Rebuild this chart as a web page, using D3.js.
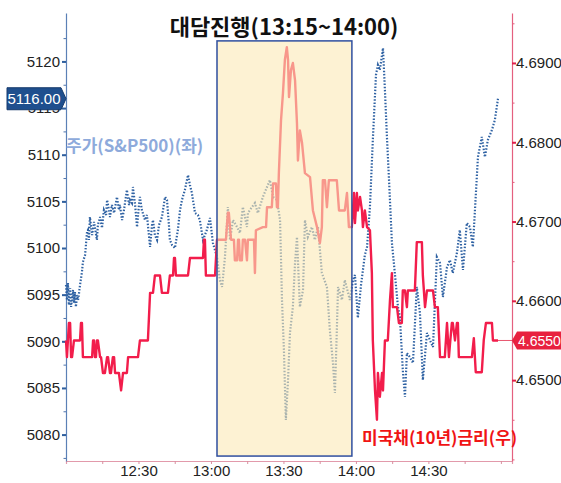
<!DOCTYPE html>
<html>
<head>
<meta charset="utf-8">
<script src="https://cdn.jsdelivr.net/npm/d3@7"></script>
<style>
  body { margin: 0; background: #ffffff; }
  svg { display: block; font-family: "Liberation Sans", Arial, sans-serif; }
</style>
</head>
<body>
<div id="content_svg"></div>
<script>
// S&P500: minutos desde las 12:00 y valor (eje izquierdo)
var spxMinutos = [0,0.4,0.8,1.2,1.7,2.1,2.9,3.3,3.7,4.1,4.6,5.0,5.4,5.8,6.6,7.0,7.9,8.7,9.1,9.5,9.9,10.8,11.6,12.8,13.2,14.1,14.9,15.7,16.6,17.0,17.8,18.2,19.0,19.9,21.1,21.9,22.3,23.2,24.0,25.2,26.1,26.5,27.3,27.7,28.6,29.4,30.2,30.6,31.4,32.7,33.5,34.8,35.6,36.0,36.8,37.7,38.5,39.7,41.0,41.8,42.6,43.0,43.9,45.1,46.3,47.2,48.0,49.2,50.5,51.3,52.1,53.4,54.6,55.4,56.7,57.5,58.3,59.6,60.8,62.5,63.7,64.6,65.8,67.0,67.9,69.1,70.8,72.0,73.2,74.9,75.3,77.0,78.2,79.4,81.5,83.2,84.4,85.7,87.3,88.6,89.4,90.2,91.0,91.9,92.7,93.9,94.8,95.6,96.8,98.1,98.9,100.1,101.8,103.0,104.3,105.9,108.0,109.2,110.5,111.3,112.1,112.6,114.2,115.4,117.5,118.8,119.6,120.8,122.1,122.9,123.7,124.6,125.8,127.0,128.3,129.1,129.9,130.8,131.2,132.0,132.8,133.7,134.9,136.1,137.4,138.2,139.4,140.3,141.1,142.3,143.6,145.2,146.5,147.7,149.4,150.6,151.9,153.5,154.8,156.0,157.7,158.9,160.1,161.8,163.0,164.3,165.9,167.2,168.4,169.2,170.5,172.1,173.4,174.6,176.3,177.5,178.8];
var spxValores = [5096.03,5094.43,5096.25,5093.89,5095.71,5093.68,5095.50,5094.10,5095.28,5093.68,5094.96,5094.43,5095.18,5096.03,5097.43,5098.50,5099.25,5101.72,5101.93,5100.86,5103.32,5101.39,5102.79,5100.86,5102.47,5103.32,5102.14,5104.07,5103.54,5105.15,5104.07,5103.32,5104.61,5103.75,5105.47,5104.07,5104.61,5103.00,5104.07,5106.22,5104.61,5105.15,5104.82,5106.54,5104.61,5102.25,5104.61,5105.47,5104.07,5103.00,5103.54,5100.11,5102.47,5103.00,5101.39,5100.86,5102.47,5103.32,5105.47,5105.15,5102.47,5100.86,5100.32,5100.00,5101.93,5104.07,5105.15,5106.22,5107.83,5106.75,5105.90,5103.75,5103.54,5103.00,5100.86,5101.39,5101.93,5103.22,5100.54,5099.04,5096.57,5095.82,5099.04,5104.40,5100.86,5103.00,5102.25,5101.61,5104.40,5102.25,5103.75,5104.40,5104.82,5103.75,5105.47,5106.54,5107.29,5105.47,5105.15,5103.00,5094.43,5089.07,5081.56,5085.85,5090.89,5093.68,5098.39,5101.18,5093.68,5095.50,5103.00,5101.18,5102.25,5100.86,5102.25,5097.32,5095.82,5091.21,5087.67,5084.46,5091.21,5095.82,5094.43,5096.57,5094.43,5096.57,5097.11,5092.50,5096.03,5097.64,5099.25,5100.11,5104.40,5111.58,5118.55,5119.62,5119.08,5120.69,5121.44,5116.94,5112.11,5107.29,5100.54,5097.32,5093.68,5092.60,5086.92,5084.03,5088.74,5088.32,5087.67,5095.82,5093.03,5085.85,5090.89,5090.14,5089.39,5099.04,5098.39,5094.75,5097.96,5098.71,5097.32,5099.46,5101.93,5097.64,5102.68,5102.25,5100.11,5103.75,5109.75,5111.90,5109.75,5111.58,5112.65,5113.72,5116.00];

// Bono 10 años: minutos desde las 12:00 y rendimiento (eje derecho)
var bonoMinutos = [0,0.4,1.2,1.7,2.1,2.5,3.3,5.8,6.2,6.6,7.0,10.8,11.2,11.6,12.0,12.4,12.8,13.2,14.1,14.5,15.3,16.1,17.0,17.4,18.2,18.6,19.4,19.9,20.3,21.9,22.8,23.6,25.2,25.7,29.8,30.6,33.9,34.8,36.0,36.8,38.9,39.7,42.2,43.0,44.3,44.7,45.1,45.5,50.5,51.3,56.7,57.1,57.5,57.9,61.7,62.5,66.2,67.0,67.4,68.3,69.5,69.9,70.8,71.2,71.6,72.0,72.8,73.2,74.1,74.9,75.3,77.8,78.2,78.6,81.5,82.8,83.2,85.2,85.7,86.9,87.3,87.7,88.1,89.0,89.8,90.6,91.4,91.9,92.3,93.1,93.9,94.8,95.6,96.0,96.8,97.7,98.9,101.0,102.2,103.9,105.1,105.9,106.3,107.2,108.0,108.8,112.1,113.0,115.4,116.3,117.1,118.3,119.2,119.6,120.4,120.8,121.7,122.5,122.9,123.7,124.6,125.8,126.6,127.0,127.9,128.7,129.1,129.9,130.8,131.2,132.0,133.2,134.1,134.9,135.3,137.0,137.8,139.0,139.4,140.3,141.1,141.5,144.4,145.2,147.3,147.7,148.6,149.4,151.9,152.7,153.9,154.8,156.8,157.7,158.5,158.9,159.7,160.1,161.0,161.8,162.2,162.6,168.0,168.8,169.6,172.1,172.9,173.8,176.3,176.7,178.8];
var bonoValores = [4.6550,4.6529,4.6572,4.6572,4.6529,4.6529,4.6550,4.6550,4.6572,4.6572,4.6529,4.6529,4.6550,4.6550,4.6529,4.6529,4.6550,4.6550,4.6529,4.6529,4.6509,4.6509,4.6529,4.6529,4.6509,4.6509,4.6529,4.6529,4.6509,4.6509,4.6487,4.6509,4.6509,4.6529,4.6529,4.6550,4.6550,4.6610,4.6610,4.6632,4.6632,4.6610,4.6610,4.6632,4.6632,4.6654,4.6654,4.6632,4.6632,4.6654,4.6654,4.6677,4.6677,4.6632,4.6632,4.6677,4.6677,4.6711,4.6711,4.6677,4.6677,4.6651,4.6651,4.6677,4.6677,4.6651,4.6651,4.6677,4.6677,4.6651,4.6677,4.6677,4.6635,4.6689,4.6693,4.6693,4.6718,4.6718,4.6748,4.6748,4.6718,4.6718,4.6761,4.6828,4.6862,4.6904,4.6920,4.6904,4.6857,4.6891,4.6900,4.6878,4.6824,4.6777,4.6815,4.6799,4.6761,4.6756,4.6714,4.6693,4.6673,4.6693,4.6752,4.6752,4.6718,4.6752,4.6752,4.6714,4.6714,4.6736,4.6693,4.6693,4.6736,4.6698,4.6736,4.6714,4.6731,4.6714,4.6693,4.6714,4.6693,4.6689,4.6635,4.6550,4.6487,4.6450,4.6509,4.6479,4.6509,4.6487,4.6550,4.6550,4.6601,4.6635,4.6592,4.6592,4.6572,4.6572,4.6613,4.6613,4.6592,4.6613,4.6613,4.6674,4.6674,4.6632,4.6592,4.6613,4.6613,4.6592,4.6592,4.6529,4.6529,4.6572,4.6529,4.6544,4.6572,4.6572,4.6550,4.6572,4.6572,4.6529,4.6529,4.6553,4.6510,4.6510,4.6550,4.6572,4.6572,4.6550,4.6550];

var etiquetasHora = ["12:30", "13:00", "13:30", "14:00", "14:30"];
var ticksIzq = [5080, 5085, 5090, 5095, 5100, 5105, 5110, 5115, 5120];
var ticksDer = [4.65, 4.66, 4.67, 4.68, 4.69];
var rangoHoras = ["12:00:00", "15:04:36"];
var tramoCharla = ["13:02:30", "13:58:20"]; // recuadro sombreado
var tramoCharlaValor = [5077.7, 5122.2];

var titulo = "대담진행(13:15~14:00)";
var etiquetaSpx = "주가(S&P500)(좌)";
var etiquetaBono = "미국채(10년)금리(우)";

(function() {
    var W = 561, H = 483;
    var izq = 66, der = 512, arriba = 13, abajo = 461;

    var leerHora = d3.timeParse("%H:%M:%S");
    var base = leerHora("12:00:00");
    function hora(m) {
        return new Date(base.getTime() + m * 60000);
    }

    var svg = d3.select("#content_svg")
        .append("svg")
        .attr("width", W)
        .attr("height", H);

    var x = d3.scaleTime()
        .domain(rangoHoras.map(leerHora))
        .range([izq, der]);
    var yIzq = d3.scaleLinear()
        .domain([5077.17, 5125.19])
        .range([abajo, arriba]);
    var yDer = d3.scaleLinear()
        .domain([4.6398, 4.6963])
        .range([abajo, arriba]);

    var spx = spxMinutos.map(function(m, i) { return {t: hora(m), v: spxValores[i]}; });
    var bono = bonoMinutos.map(function(m, i) { return {t: hora(m), v: bonoValores[i]}; });

    // ejes
    var fmt = d3.timeFormat("%H:%M");
    var ticksX = d3.timeMinute.every(15).range(hora(15), hora(181));
    var ejeX = svg.append("g")
        .attr("transform", "translate(0," + abajo + ")")
        .call(d3.axisBottom(x)
            .tickValues(ticksX)
            .tickSize(3)
            .tickPadding(1)
            .tickFormat(function(d) { return etiquetasHora.indexOf(fmt(d)) >= 0 ? fmt(d) : ""; }));
    ejeX.select(".domain").attr("stroke", "#e29aab").attr("stroke-width", 1.2);
    ejeX.selectAll(".tick line").attr("stroke", "#d98fa0");
    ejeX.selectAll("text").attr("fill", "#222").style("font-size", "15px");

    var menoresIzq = d3.range(5077.5, 5125, 2.5);
    var ejeIzqMenor = svg.append("g")
        .attr("transform", "translate(" + izq + ",0)")
        .call(d3.axisLeft(yIzq).tickValues(menoresIzq).tickSize(2.5).tickFormat(""));
    ejeIzqMenor.select(".domain").remove();
    ejeIzqMenor.selectAll(".tick line").attr("stroke", "#4d73ac");

    var ejeIzq = svg.append("g")
        .attr("transform", "translate(" + izq + ",0)")
        .call(d3.axisLeft(yIzq).tickValues(ticksIzq).tickSize(4).tickPadding(2)
            .tickSizeOuter(0).tickFormat(d3.format("d")));
    ejeIzq.select(".domain").attr("stroke", "#5b80b6").attr("stroke-width", 1.2);
    ejeIzq.selectAll(".tick line").attr("stroke", "#2f5f9e").attr("stroke-width", 2);
    ejeIzq.selectAll("text").attr("fill", "#222").style("font-size", "15px");

    var menoresDer = d3.range(4.640, 4.6961, 0.005);
    var ejeDerMenor = svg.append("g")
        .attr("transform", "translate(" + der + ",0)")
        .call(d3.axisRight(yDer).tickValues(menoresDer).tickSize(2.5).tickFormat(""));
    ejeDerMenor.select(".domain").remove();
    ejeDerMenor.selectAll(".tick line").attr("stroke", "#e25d7d");

    var ejeDer = svg.append("g")
        .attr("transform", "translate(" + der + ",0)")
        .call(d3.axisRight(yDer).tickValues(ticksDer).tickSize(4).tickPadding(0)
            .tickSizeOuter(0).tickFormat(d3.format(".4f")));
    ejeDer.select(".domain").attr("stroke", "#e4607f").attr("stroke-width", 1.2);
    ejeDer.selectAll(".tick line").attr("stroke", "#e0204a").attr("stroke-width", 2);
    ejeDer.selectAll("text").attr("fill", "#222").style("font-size", "15px");

    // lineas
    var lineaSpx = d3.line()
        .x(function(d) { return x(d.t); })
        .y(function(d) { return yIzq(d.v); });
    var lineaBono = d3.line()
        .x(function(d) { return x(d.t); })
        .y(function(d) { return yDer(d.v); });

    svg.append("path")
        .datum(spx)
        .attr("d", lineaSpx)
        .attr("fill", "none")
        .attr("stroke", "#2f62a3")
        .attr("stroke-width", 2.2)
        .attr("stroke-dasharray", "1.5,1.7");

    var ultimoBono = bono[bono.length - 1];
    svg.append("line")
        .attr("x1", x(ultimoBono.t)).attr("x2", der)
        .attr("y1", yDer(ultimoBono.v)).attr("y2", yDer(ultimoBono.v))
        .attr("stroke", "#e8566f")
        .attr("stroke-width", 1);

    svg.append("path")
        .datum(bono)
        .attr("d", lineaBono)
        .attr("fill", "none")
        .attr("stroke", "#f21d4b")
        .attr("stroke-width", 2.4)
        .attr("stroke-linejoin", "round");

    // recuadro de la charla (encima de las lineas, semitransparente)
    var bx0 = x(leerHora(tramoCharla[0])), bx1 = x(leerHora(tramoCharla[1]));
    var by0 = yIzq(tramoCharlaValor[1]), by1 = yIzq(tramoCharlaValor[0]);
    svg.append("rect")
        .attr("x", bx0).attr("y", by0)
        .attr("width", bx1 - bx0).attr("height", by1 - by0)
        .attr("fill", "#fce9b6")
        .attr("fill-opacity", 0.6)
        .attr("stroke", "#2f4f9f")
        .attr("stroke-width", 1.5);

    // etiqueta ultimo valor S&P
    var ultimoSpx = spx[spx.length - 1];
    var ys = yIzq(ultimoSpx.v);
    svg.append("path")
        .attr("d", "M7," + (ys - 11) + "L61," + (ys - 11) + "L" + izq + "," + ys +
            "L61," + (ys + 11) + "L7," + (ys + 11) + "Z")
        .attr("fill", "#1f4f8e")
        .attr("stroke", "#163a6c");
    svg.append("text")
        .attr("x", 34).attr("y", ys)
        .attr("dy", "0.36em")
        .attr("text-anchor", "middle")
        .attr("fill", "#ffffff")
        .style("font-size", "15px")
        .text(d3.format(".2f")(ultimoSpx.v));

    // etiqueta ultimo valor bono
    var yb = yDer(ultimoBono.v);
    svg.append("path")
        .attr("d", "M" + der + "," + yb + "L517," + (yb - 9) + "L561," + (yb - 9) +
            "L561," + (yb + 9) + "L517," + (yb + 9) + "Z")
        .attr("fill", "#e8213f");
    svg.append("text")
        .attr("x", 518).attr("y", yb)
        .attr("dy", "0.36em")
        .attr("fill", "#ffffff")
        .style("font-size", "14px")
        .text(d3.format(".4f")(ultimoBono.v));

    // textos
    svg.append("text")
        .attr("x", 284).attr("y", 35)
        .attr("text-anchor", "middle")
        .style("font-family", "'Noto Sans CJK KR', sans-serif")
        .style("font-weight", "bold")
        .style("font-size", "22px")
        .attr("fill", "#111")
        .text(titulo);

    svg.append("text")
        .attr("x", 66).attr("y", 152)
        .style("font-family", "'Noto Sans CJK KR', sans-serif")
        .style("font-weight", "bold")
        .style("font-size", "17px")
        .attr("fill", "#8eaadb")
        .text(etiquetaSpx);

    svg.append("text")
        .attr("x", 362).attr("y", 444)
        .style("font-family", "'Noto Sans CJK KR', sans-serif")
        .style("font-weight", "bold")
        .style("font-size", "17px")
        .attr("fill", "#f01414")
        .text(etiquetaBono);
})();
</script>
</body>
</html>
